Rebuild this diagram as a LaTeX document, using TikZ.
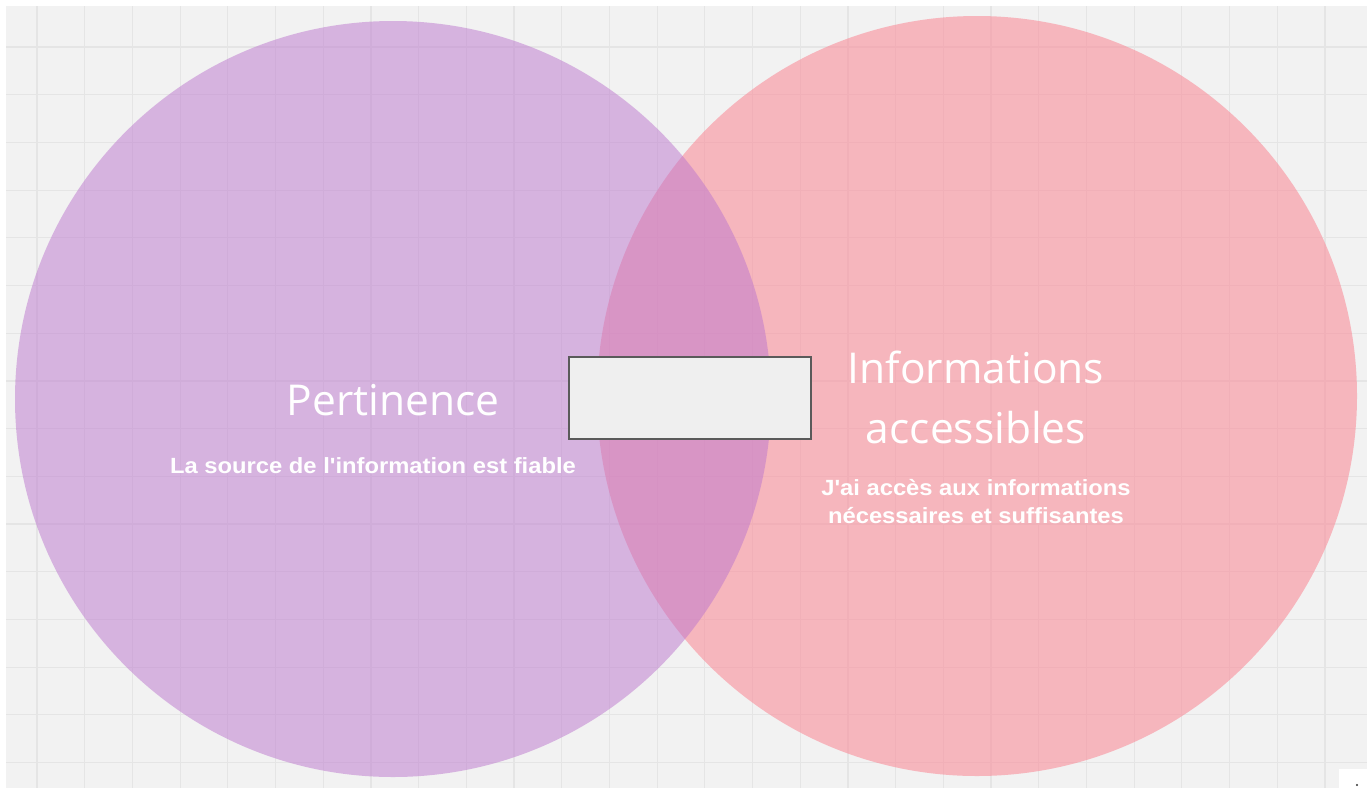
\documentclass[tikz,border=0pt]{standalone}
\usepackage{fontspec}
\setmainfont{Open Sans}
\newfontfamily\subfont[FakeStretch=1.08]{Liberation Sans}
\definecolor{bgc}{RGB}{242,242,242}
\definecolor{gridc}{RGB}{229,229,229}
\definecolor{purplec}{RGB}{188,118,206}
\definecolor{pinkc}{RGB}{250,142,155}
\definecolor{boxfill}{RGB}{239,239,239}
\definecolor{boxdraw}{RGB}{90,90,90}
\tikzset{
  title/.style={text=white, align=center, font=\fontsize{42.5}{60}\selectfont, inner sep=0pt},
  sub/.style={text=white, align=center, font=\subfont\bfseries\fontsize{22}{28}\selectfont, inner sep=0pt},
  gridline/.style={draw=gridc, line width=1.2pt},
}
\begin{document}
\begin{tikzpicture}[x=1pt,y=-1pt]
\useasboundingbox (0,0) rectangle (1367,788);
\fill[white] (0,0) rectangle (1367,788);
\fill[bgc] (6,6) rectangle (1367,788);
\foreach \i in {0,...,27} {
  \draw[gridline] ({37+47.7*\i},6) -- ({37+47.7*\i},788);
}
\foreach \j in {0,...,15} {
  \draw[gridline] (6,{47+47.7*\j}) -- (1367,{47+47.7*\j});
}
\fill[pinkc, fill opacity=0.6] (977,396) circle[radius=380];
\fill[purplec, fill opacity=0.5] (393,399) circle[radius=378];
\node[draw=boxdraw, fill=boxfill, line width=2pt, minimum width=242pt, minimum height=82pt, inner sep=0pt] (box) at (690,398) {};
\node[title] (pert) at (393,400) {Pertinence};
\node[sub] (pertsub) at (373,466) {La source de l'information est fiable};
\node[title] (info) at (976,397) {Informations\\accessibles};
\node[sub] (infosub) at (976,502) {J'ai accès aux informations\\nécessaires et suffisantes};
\fill[white] (1339,769) rectangle (1367,788);
\fill[black!80] (1357,785) circle[radius=1.2];
\end{tikzpicture}
\end{document}
